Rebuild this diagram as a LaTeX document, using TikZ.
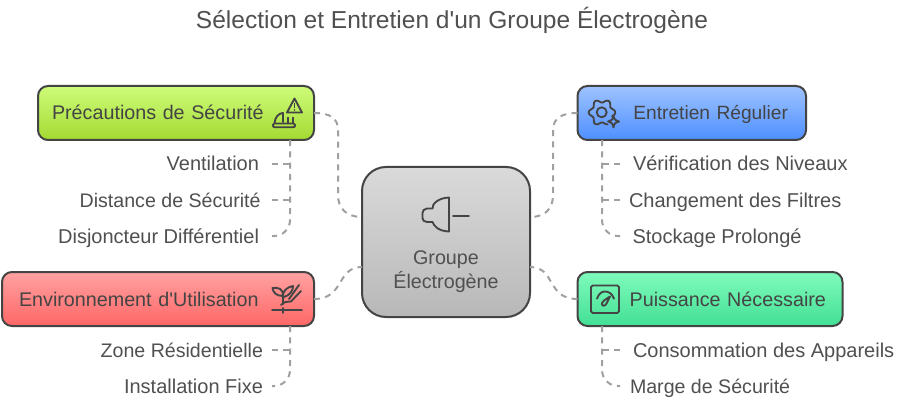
\documentclass[tikz,border=0pt]{standalone}
\usepackage{fontspec}
\setmainfont[Ligatures=TeXOff]{Liberation Sans}
\usetikzlibrary{calc}
\definecolor{ink}{HTML}{444444}
\definecolor{txt}{HTML}{505050}
\definecolor{dashc}{HTML}{A0A0A0}
\tikzset{
  x=0.75pt,y=-0.75pt,
  box/.style={draw=ink,line width=1.5pt,outer sep=0pt,rounded corners=7.5pt,minimum height=40.5pt,inner ysep=0pt,font=\fontsize{14.8pt}{18pt}\selectfont,text=ink,anchor=north west},
  boxone/.style={box,text height=10.5pt,text depth=0pt},
  conn/.style={draw=dashc,line width=1.5pt,dash pattern=on 4.5pt off 4pt},
  item/.style={font=\fontsize{15pt}{18pt}\selectfont,text=txt,inner ysep=0pt,outer sep=0pt,text height=10.5pt,text depth=0pt},
  itemb/.style={item,font=\fontsize{14.7pt}{18pt}\selectfont},
  icon/.style={draw=ink,line width=1.4pt,line cap=round,line join=round},
}
\begin{document}
\begin{tikzpicture}
\useasboundingbox[fill=white] (0,0) rectangle (913,417);
\node[font=\fontsize{18.4pt}{22pt}\selectfont,text=txt,inner sep=0pt,anchor=base] (title) at (452,29) {Sélection et Entretien d'un Groupe Électrogène};

\node[box,top color={rgb,255:red,218;green,218;blue,218},bottom color={rgb,255:red,184;green,184;blue,184},rounded corners=18pt,minimum width=126pt,minimum height=112.5pt,align=center,text=txt] (center) at (362,167) {\rule{0pt}{37.5pt}\\Groupe\\Électrogène};

\node[boxone,top color={rgb,255:red,206;green,252;blue,122},bottom color={rgb,255:red,164;green,218;blue,50},minimum width=207pt,inner xsep=10.5pt,text width=186pt,align=left] (prec) at (38,86) {Précautions de Sécurité};
\node[boxone,font=\fontsize{14.4pt}{18pt}\selectfont,top color={rgb,255:red,158;green,195;blue,255},bottom color={rgb,255:red,78;green,143;blue,255},minimum width=171.4pt,inner xsep=13.5pt,text width=144.4pt,align=right] (entr) at (577.5,86) {Entretien Régulier};
\node[boxone,top color={rgb,255:red,255;green,162;blue,162},bottom color={rgb,255:red,255;green,102;blue,102},minimum width=234pt,inner xsep=12.75pt,text width=208.5pt,align=left] (envi) at (2,272) {Environnement d'Utilisation};
\node[boxone,top color={rgb,255:red,128;green,251;blue,188},bottom color={rgb,255:red,66;green,223;blue,148},minimum width=198.75pt,inner xsep=12.4pt,text width=173.95pt,align=right] (puis) at (577.5,272) {Puissance Nécessaire};

\node[item,anchor=east,inner xsep=9.75pt] (a1) at (272,164) {Ventilation};
\node[itemb,anchor=east,inner xsep=8.6pt] (a2) at (272,200) {Distance de Sécurité};
\node[item,anchor=east,inner xsep=9.75pt] (a3) at (272,236) {Disjoncteur Différentiel};
\node[itemb,anchor=east,inner xsep=6.75pt] (c1) at (272,350) {Zone Résidentielle};
\node[item,anchor=east,inner xsep=6.75pt] (c2) at (272,386) {Installation Fixe};
\node[item,anchor=west,inner xsep=9.75pt] (b1) at (620,164) {Vérification des Niveaux};
\node[item,anchor=west,inner xsep=6.75pt] (b2) at (620,200) {Changement des Filtres};
\node[item,anchor=west,inner xsep=9.4pt] (b3) at (620,236) {Stockage Prolongé};
\node[item,anchor=west,inner xsep=9.75pt] (d1) at (620,350) {Consommation des Appareils};
\node[itemb,anchor=west,inner xsep=7.5pt] (d2) at (620,386) {Marge de Sécurité};

\coordinate (tl) at (290,0);
\coordinate (tr) at (602,0);

% centre to boxes
\draw[conn] (prec.east) .. controls (330,113) and (338,118) .. (338,130) -- (338,195) .. controls (338,208) and (346,217) .. ([yshift=18.75pt]center.west);
\draw[conn] (envi.east) .. controls (345,299) and (336,267) .. ([yshift=-18.75pt]center.west);
\draw[conn] (entr.west) .. controls (562,113) and (553,118) .. (553,130) -- (553,195) .. controls (553,208) and (546,217) .. ([yshift=18.75pt]center.east);
\draw[conn] (puis.west) .. controls (546,299) and (556,267) .. ([yshift=-18.75pt]center.east);

% trunks
\draw[conn,rounded corners=12pt] (prec.south -| tl) |- (a3.east);
\draw[conn] (a1.east) -- (a1.east -| tl);
\draw[conn] (a2.east) -- (a2.east -| tl);
\draw[conn,rounded corners=12pt] (envi.south -| tl) |- (c2.east);
\draw[conn] (c1.east) -- (c1.east -| tl);
\draw[conn,rounded corners=12pt] (entr.south -| tr) |- (b3.west);
\draw[conn] (b1.west) -- (b1.west -| tr);
\draw[conn] (b2.west) -- (b2.west -| tr);
\draw[conn,rounded corners=12pt] (puis.south -| tr) |- (d2.west);
\draw[conn] (d1.west) -- (d1.west -| tr);

% plug icon
\draw[icon] (449,197.5) .. controls (438,198) and (432,204) .. (432.5,208.5) -- (427,208.5) .. controls (424,208.5) and (422.5,211) .. (422.5,213) -- (422.5,218) .. controls (422.5,220) and (424,222) .. (427,222) -- (432.5,222) .. controls (434,226) and (438,231) .. (449,231.5) -- cycle;
\draw[icon] (453,215.7) -- (469,215.7);

% warning / helmet icon
\draw[icon] (294.5,98.5) -- (302,112.5) -- (287,112.5) -- cycle;
\draw[icon] (294.5,103.5) -- (294.5,107.5);
\fill[ink] (294.5,110) circle (0.9);
\draw[icon,rounded corners=1pt] (273,123.5) rectangle (295,127.3);
\draw[icon] (274.5,123) .. controls (275,117) and (279,113) .. (283,113) -- (283,122);
\draw[icon] (288,117.5) -- (288,123);
\draw[icon] (293,117.5) -- (293,123);

% plant icon
\draw[icon] (272,310.3) -- (302,310.3);
\draw[icon] (282.7,308) -- (282.7,313);
\draw[icon] (281,305) .. controls (283,302) and (285,302) .. (291,301.5) -- (301,291);
\draw[icon] (289,299) -- (299,285);
\draw[icon] (282.7,304) -- (282.7,296);
\draw[icon] (282.7,296) .. controls (276,296) and (273,292) .. (272.5,288) .. controls (278,287) and (284,289) .. (282.7,296);
\draw[icon] (282.7,296) .. controls (283,291) and (287,287) .. (293,286) .. controls (293,291) and (290,295) .. (284,297);

% gear icon
\draw[icon] plot[smooth,samples=73,domain=-20:295] ({602+(11.6+1.7*cos(6*\x))*cos(\x)},{112.5-(11.6+1.7*cos(6*\x))*sin(\x)});
\draw[icon] (601.7,112.3) circle (5);
\draw[icon] (613.5,115.5) .. controls (614,119) and (615,120.5) .. (619,121.5) .. controls (615,122.5) and (614,124) .. (613.5,127.5) .. controls (613,124) and (612,122.5) .. (608,121.5) .. controls (612,120.5) and (613,119) .. (613.5,115.5) -- cycle;

% gauge icon
\draw[icon,rounded corners=1.2pt] (591,285.5) rectangle (619,313);
\draw[icon] (597,298.7) .. controls (599,293) and (602,291.5) .. (605,291.5) .. controls (608,291.5) and (612,293) .. (614,298.7);
\draw[icon] (610,296.5) -- (606.5,303.5) .. controls (605.5,306.5) and (601,306.5) .. (602,303) .. controls (602.5,301) and (605,300) .. (610,296.5) -- cycle;
\end{tikzpicture}
\end{document}
